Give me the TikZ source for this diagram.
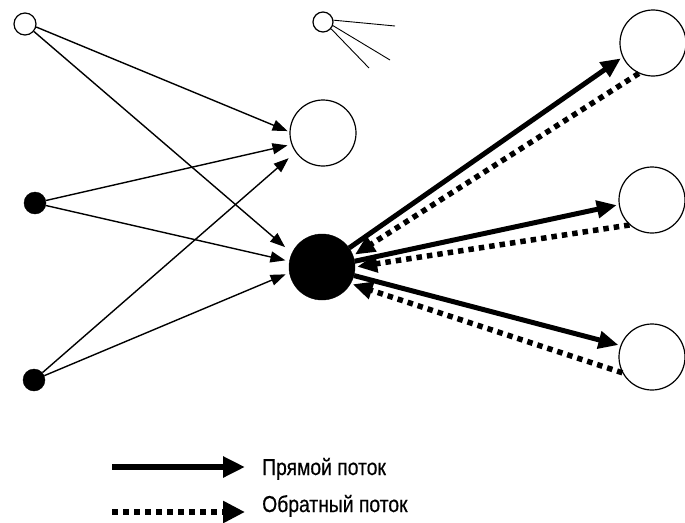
\documentclass[tikz,border=0pt]{standalone}
\usepackage{fontspec}
\newfontfamily\lgfont[FakeStretch=0.84,FakeBold=0.5]{Liberation Sans}
\usetikzlibrary{arrows.meta}
\begin{document}
\begin{tikzpicture}[x=1pt,y=-1pt,
  opencirc/.style={circle,draw,line width=1.2pt,inner sep=0pt,fill=white},
  fillcirc/.style={circle,draw,fill=black,inner sep=0pt},
  thin arrow/.style={line width=1.4pt,-{Triangle[length=15pt,width=11pt]}},
  solidflow/.style={line width=5pt,-{Triangle[length=20pt,width=17pt]},shorten >=2pt},
  dotflow/.style={line width=5.5pt,dash pattern=on 5.5pt off 5pt,-{Triangle[length=20pt,width=17pt]},shorten >=2pt},
  legtext/.style={anchor=base west,inner sep=0pt,font=\lgfont\fontsize{23}{26}\selectfont}]
\useasboundingbox (0,0) rectangle (685,522);
% nodes
\node[opencirc,minimum size=22pt] (s1) at (25,24) {};
\node[opencirc,minimum size=20pt] (s2) at (323,22) {};
\node[opencirc,minimum size=66pt] (m) at (323,133) {};
\node[fillcirc,minimum size=66pt] (B) at (322,267) {};
\node[fillcirc,minimum size=22pt] (d1) at (35,203) {};
\node[fillcirc,minimum size=22pt] (d2) at (34,380) {};
\node[opencirc,minimum size=66pt] (r1) at (653,43) {};
\node[opencirc,minimum size=66pt] (r2) at (652,200) {};
\node[opencirc,minimum size=66pt] (r3) at (652,357) {};
% rays of small circle
\coordinate (ra) at (395,26);
\coordinate (rb) at (390,60);
\coordinate (rc) at (369,68);
\draw[line width=0.9pt] (s2.10) -- (ra);
\draw[line width=0.9pt] (s2.-20) -- (rb);
\draw[line width=0.9pt] (s2.-40) -- (rc);
% thin arrows
\draw[thin arrow,shorten >=2pt] (s1.-15) -- (m.178);
\draw[thin arrow,shorten >=4pt] (d1) -- (m.200);
\draw[thin arrow,shorten >=9pt] (d2) -- (m.215);
\draw[thin arrow,shorten >=9pt] (s1.-40) -- (B.155);
\draw[thin arrow,shorten >=4pt] (d1) -- (B.170);
\draw[thin arrow,shorten >=4pt] (d2) -- (B.190);
% heavy flows
\draw[solidflow] (B.35) -- (r1.205);
\draw[dotflow] (r1.245) -- (B.20);
\draw[solidflow] (B.10) -- (r2.188);
\draw[dotflow] (r2.228) -- (B.0);
\draw[solidflow] (B.-15) -- (r3.160);
\draw[dotflow] (r3.208) -- (B.-30);
% legend
\coordinate (la) at (112,467);
\coordinate (lb) at (245,467);
\coordinate (lc) at (112,512);
\coordinate (ld) at (245,512);
\draw[line width=6pt,-{Triangle[length=22pt,width=20pt]}] (la) -- (lb);
\draw[line width=6pt,dash pattern=on 6pt off 5pt,-{Triangle[length=22pt,width=21pt]}] (lc) -- (ld);
\node[legtext] (t1) at (262,475) {Прямой поток};
\node[legtext] (t2) at (262,512) {Обратный поток};
\end{tikzpicture}
\end{document}
